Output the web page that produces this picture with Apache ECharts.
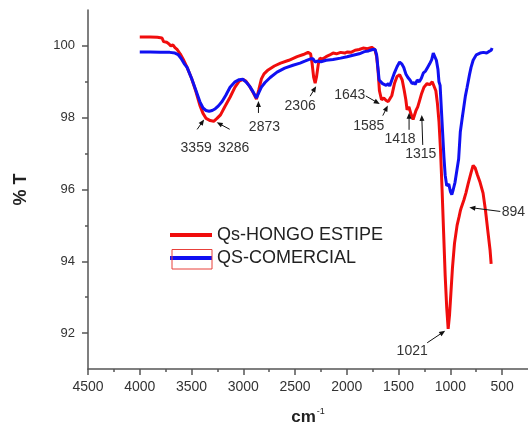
<!DOCTYPE html>
<html>
<head>
<meta charset="utf-8">
<script src="https://cdn.jsdelivr.net/npm/echarts@6/dist/echarts.min.js"></script>
<style>
  html, body { margin: 0; padding: 0; background: #fff; }
  #chart { width: 528px; height: 426px; }
</style>
</head>
<body>
<div id="chart"></div>
<script>
// FTIR transmittance spectra (wavenumber in cm-1, transmittance in %)
const xMajorTicks = [4500, 4000, 3500, 3000, 2500, 2000, 1500, 1000, 500];
const xMinorTicks = [4250, 3750, 3250, 2750, 2250, 1750, 1250, 750];
const yMajorTicks = [92, 94, 96, 98, 100];
const yMinorTicks = [93, 95, 97, 99];

const seriesNames = ['Qs-HONGO ESTIPE', 'QS-COMERCIAL'];

const hongoEstipe = [
  [4000,100.25],[3900,100.25],[3830,100.24],[3785,100.22],[3770,100.12],[3740,100.1],[3720,100.06],
  [3700,100.0],[3680,100.03],[3660,99.95],[3640,99.9],[3610,99.78],[3575,99.6],[3543,99.4],[3500,99.1],
  [3460,98.75],[3420,98.35],[3389,98.12],[3359,97.98],[3320,97.92],[3286,97.9],[3254,97.98],[3220,98.08],
  [3180,98.3],[3128,98.57],[3080,98.85],[3040,99.02],[3005,99.07],[2975,99.02],[2940,98.88],[2905,98.7],
  [2873,98.52],[2850,98.78],[2825,99.08],[2800,99.22],[2760,99.33],[2700,99.44],[2640,99.52],[2560,99.6],
  [2480,99.7],[2420,99.76],[2375,99.82],[2350,99.78],[2335,99.5],[2320,99.12],[2306,98.96],[2292,99.15],
  [2275,99.5],[2260,99.66],[2239,99.63],[2200,99.7],[2170,99.74],[2133,99.8],[2100,99.78],[2060,99.82],
  [2020,99.8],[1998,99.83],[1960,99.82],[1920,99.88],[1880,99.9],[1843,99.94],[1800,99.92],[1760,99.96],
  [1730,99.9],[1712,99.7],[1698,99.3],[1685,98.75],[1665,98.5],[1643,98.55],[1620,98.48],[1600,98.45],
  [1585,98.42],[1565,98.62],[1540,98.95],[1515,99.15],[1490,99.2],[1465,99.05],[1445,98.75],[1430,98.5],
  [1418,98.22],[1400,98.3],[1380,98.1],[1360,97.95],[1345,97.93],[1332,98.2],[1315,98.3],[1300,98.45],
  [1280,98.65],[1255,98.85],[1225,98.95],[1200,98.92],[1175,99.0],[1158,99.02],[1140,98.75],[1125,98.4],
  [1110,97.9],[1095,97.1],[1080,96.0],[1065,94.8],[1050,93.6],[1035,92.7],[1021,92.12],[1008,92.5],
  [995,93.1],[980,93.8],[960,94.5],[935,95.0],[915,95.25],[904,95.4],[894,95.5],[870,95.7],[850,95.9],
  [829,96.15],[800,96.47],[780,96.67],[760,96.6],[740,96.42],[713,96.2],[684,95.9],[660,95.4],
  [635,94.77],[616,94.3],[606,93.93]
];

const qsComercial = [
  [4000,99.83],[3900,99.83],[3800,99.82],[3710,99.82],[3660,99.8],[3630,99.76],[3600,99.65],[3570,99.5],
  [3543,99.4],[3500,99.1],[3460,98.78],[3420,98.45],[3389,98.27],[3360,98.2],[3330,98.18],[3300,98.2],
  [3270,98.25],[3240,98.33],[3205,98.45],[3170,98.62],[3128,98.85],[3080,99.0],[3040,99.06],[3005,99.07],
  [2975,99.0],[2940,98.88],[2905,98.72],[2873,98.55],[2850,98.7],[2825,98.85],[2790,98.98],[2740,99.12],
  [2674,99.27],[2600,99.38],[2520,99.46],[2452,99.52],[2400,99.58],[2350,99.64],[2326,99.64],[2306,99.55],
  [2285,99.58],[2250,99.56],[2200,99.6],[2133,99.62],[2060,99.66],[1998,99.7],[1940,99.74],[1880,99.78],
  [1830,99.84],[1790,99.86],[1750,99.9],[1727,99.9],[1712,99.75],[1700,99.4],[1688,99.05],[1670,99.0],
  [1655,98.95],[1640,99.0],[1620,98.9],[1600,98.95],[1586,98.88],[1565,99.05],[1540,99.25],[1515,99.42],
  [1490,99.55],[1470,99.5],[1450,99.4],[1430,99.22],[1410,99.12],[1390,99.05],[1370,98.95],[1350,98.98],
  [1340,98.92],[1320,99.05],[1300,99.0],[1280,99.1],[1260,99.25],[1240,99.3],[1220,99.4],[1200,99.5],
  [1180,99.62],[1165,99.8],[1150,99.82],[1135,99.6],[1120,99.35],[1110,99.0],[1099,98.9],[1088,98.3],
  [1075,97.6],[1062,96.9],[1050,96.4],[1035,96.1],[1015,96.15],[1000,95.95],[986,95.86],[972,96.0],
  [955,96.2],[937,96.25],[920,96.85],[904,97.6],[885,98.0],[870,98.3],[855,98.6],[838,98.85],[815,99.2],
  [800,99.4],[780,99.6],[750,99.75],[713,99.8],[680,99.82],[650,99.8],[630,99.84],[616,99.8],[605,99.88],
  [597,99.94]
];

// Assigned bands: wavenumber and the spectrum the callout points at (0 = hongo, 1 = comercial)
const bandWavenumbers = [3359, 3286, 2873, 2306, 1643, 1585, 1418, 1315, 1021, 894];
const bandSeries      = [0, 0, 1, 0, 0, 0, 0, 0, 0, 0];

const FONT = "'Liberation Sans', Arial, Helvetica, sans-serif";
const RED = '#f00d0d';
const BLUE = '#1010f2';
const AXIS = '#555';
const TEXT = '#333';

// Callout geometry in pixels, relative to the band point on the curve:
// h = arrow tip, t = arrow tail, c = label centre
const calloutLayout = {
  3359: { h: [-2, 1],  t: [-9, 11],  c: [-10, 30] },
  3286: { h: [3, 1],   t: [16, 8],   c: [20, 27] },
  2873: { h: [2, 3],   t: [2, 15],   c: [8, 29] },
  2306: { h: [1, 3],   t: [-5, 13],  c: [-15, 23] },
  1643: { h: [-4, 6],  t: [-18, -2], c: [-34, -3] },
  1585: { h: [-2, 3],  t: [-7, 13],  c: [-21, 24] },
  1418: { h: [2, 3],   t: [2, 20],   c: [-7, 29] },
  1315: { h: [4, 8],   t: [5, 38],   c: [3, 47] },
  1021: { h: [-3, 2],  t: [-21, 14], c: [-36, 22] },
  894:  { h: [8, 0],   t: [39, 4],   c: [52, 5] }
};

const chart = echarts.init(document.getElementById('chart'), null, { renderer: 'canvas' });

const baseX = {
  type: 'value', min: 250, max: 4500, inverse: true, position: 'bottom'
};
const baseY = {
  type: 'value', min: 91, max: 101, position: 'left'
};
const plainNumber = function (v) { return String(v); };

chart.setOption({
  animation: false,
  backgroundColor: '#fff',
  grid: { left: 88, right: 0, top: 10, bottom: 57, containLabel: false, outerBoundsMode: 'none' },
  legend: {
    orient: 'vertical',
    left: 170,
    top: 226,
    padding: 0,
    itemGap: 5,
    icon: 'rect',
    itemWidth: 42,
    itemHeight: 4,
    selectedMode: false,
    textStyle: { fontFamily: FONT, fontSize: 18, color: '#222', lineHeight: 18 },
    data: seriesNames
  },
  xAxis: [
    Object.assign({}, baseX, {
      name: '{a|cm}{b|-1}',
      nameLocation: 'middle',
      nameGap: 38,
      nameTextStyle: {
        rich: {
          a: { fontFamily: FONT, fontSize: 17, fontWeight: 'bold', color: '#222' },
          b: { fontFamily: FONT, fontSize: 9, color: '#222', verticalAlign: 'top', padding: [0, 0, 12, 1] }
        }
      },
      axisLine: { show: true, lineStyle: { color: AXIS, width: 1.5 } },
      axisTick: { show: true, customValues: xMajorTicks, length: 6, lineStyle: { color: AXIS, width: 1.5 } },
      axisLabel: { customValues: xMajorTicks, formatter: plainNumber, margin: 11, fontFamily: FONT, fontSize: 14, color: TEXT },
      splitLine: { show: false }
    }),
    Object.assign({}, baseX, {
      axisLine: { show: false },
      axisTick: { show: true, customValues: xMinorTicks, length: 3, lineStyle: { color: AXIS, width: 1.5 } },
      axisLabel: { show: false },
      splitLine: { show: false }
    })
  ],
  yAxis: [
    Object.assign({}, baseY, {
      name: '% T',
      nameLocation: 'middle',
      nameGap: 58,
      nameRotate: 90,
      nameTextStyle: { fontFamily: FONT, fontSize: 18, fontWeight: 'bold', color: '#222' },
      axisLine: { show: true, lineStyle: { color: AXIS, width: 1.5 } },
      axisTick: { show: true, customValues: yMajorTicks, length: 6, lineStyle: { color: AXIS, width: 1.5 } },
      axisLabel: { customValues: yMajorTicks, formatter: plainNumber, margin: 13, fontFamily: FONT, fontSize: 13, color: TEXT },
      splitLine: { show: false }
    }),
    Object.assign({}, baseY, {
      axisLine: { show: false },
      axisTick: { show: true, customValues: yMinorTicks, length: 3, lineStyle: { color: AXIS, width: 1.5 } },
      axisLabel: { show: false },
      splitLine: { show: false }
    })
  ],
  series: [
    {
      name: seriesNames[0], type: 'line', data: hongoEstipe,
      xAxisIndex: 0, yAxisIndex: 0, showSymbol: false, symbol: 'none',
      lineStyle: { color: RED, width: 3 }, itemStyle: { color: RED }, z: 2
    },
    {
      name: seriesNames[1], type: 'line', data: qsComercial,
      xAxisIndex: 0, yAxisIndex: 0, showSymbol: false, symbol: 'none',
      lineStyle: { color: BLUE, width: 3 }, itemStyle: { color: BLUE }, z: 3
    }
  ]
});

// Transmittance of a spectrum at a given wavenumber (exact point or linear between neighbours)
function valueAt(spectrum, wn) {
  for (let i = 0; i < spectrum.length - 1; i++) {
    const a = spectrum[i], b = spectrum[i + 1];
    if (a[0] === wn) return a[1];
    if ((a[0] - wn) * (b[0] - wn) < 0) {
      const f = (wn - a[0]) / (b[0] - a[0]);
      return a[1] + f * (b[1] - a[1]);
    }
  }
  return spectrum[spectrum.length - 1][1];
}

const spectra = [hongoEstipe, qsComercial];
const graphics = [];

bandWavenumbers.forEach(function (wn, i) {
  const v = valueAt(spectra[bandSeries[i]], wn);
  const p = chart.convertToPixel({ gridIndex: 0 }, [wn, v]);
  const L = calloutLayout[wn];
  const hx = p[0] + L.h[0], hy = p[1] + L.h[1];
  const tx = p[0] + L.t[0], ty = p[1] + L.t[1];
  const dx = hx - tx, dy = hy - ty;
  const len = Math.sqrt(dx * dx + dy * dy) || 1;
  const ux = dx / len, uy = dy / len;
  const nx = -uy, ny = ux;
  const headLen = 6, headHalf = 2.5;
  const bx = hx - ux * headLen, by = hy - uy * headLen;
  graphics.push({
    type: 'line', silent: true, z: 10,
    shape: { x1: tx, y1: ty, x2: bx + ux * 1, y2: by + uy * 1 },
    style: { stroke: '#111', lineWidth: 1 }
  });
  graphics.push({
    type: 'polygon', silent: true, z: 10,
    shape: { points: [[hx, hy], [bx + nx * headHalf, by + ny * headHalf], [bx - nx * headHalf, by - ny * headHalf]] },
    style: { fill: '#111' }
  });
  graphics.push({
    type: 'text', silent: true, z: 10,
    x: p[0] + L.c[0], y: p[1] + L.c[1],
    style: {
      text: String(wn), fill: TEXT, font: '14px ' + FONT,
      align: 'center', verticalAlign: 'middle'
    }
  });
});

// red selection frame drawn round the second legend entry
graphics.push({
  type: 'rect', silent: true, z: 20,
  shape: { x: 172, y: 249.5, width: 40, height: 19.5 },
  style: { fill: 'none', stroke: '#e8403a', lineWidth: 1 }
});

chart.setOption({ graphic: graphics });
</script>
</body>
</html>
